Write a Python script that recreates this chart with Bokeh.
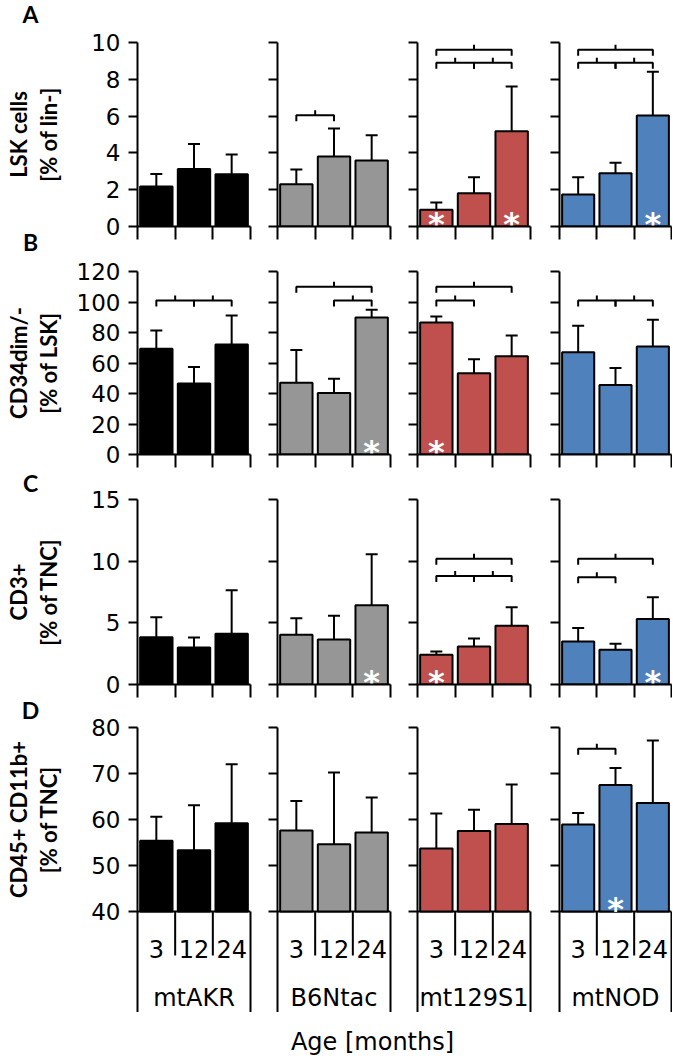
import numpy as np
from bokeh.plotting import figure
from bokeh.models import (Range1d, FixedTicker, LinearAxis, Whisker, ColumnDataSource, TeeHead)
from bokeh.layouts import column, row
from bokeh.embed import file_html
from bokeh.resources import INLINE
from bokeh.core.properties import value

# ---------------- data ----------------
strains = ["mtAKR", "B6Ntac", "mt129S1", "mtNOD"]
ages = ["3", "12", "24"]
bar_colors = ["#000000", "#969696", "#C0504D", "#4F81BD"]

row_letters = ["A", "B", "C", "D"]
row_title_1 = ["LSK cells", "CD34dim/-", "CD3+", "CD45+ CD11b+"]
row_title_2 = ["[% of lin-]", "[% of LSK]", "[% of TNC]", "[% of TNC]"]
row_ranges = [(0, 10), (0, 120), (0, 15), (40, 80)]
row_ticks = [[0, 2, 4, 6, 8, 10], [0, 20, 40, 60, 80, 100, 120],
             [0, 5, 10, 15], [40, 50, 60, 70, 80]]
x_title = "Age [months]"

# means per strain (3, 12, 24 months) and upper error
lsk_mean = [[2.17, 3.13, 2.84], [2.30, 3.80, 3.59], [0.91, 1.81, 5.18], [1.74, 2.90, 6.03]]
lsk_err = [[0.69, 1.36, 1.07], [0.80, 1.53, 1.37], [0.39, 0.87, 2.43], [0.94, 0.56, 2.38]]
cd34_mean = [[69.3, 46.6, 72.1], [47.0, 40.4, 89.8], [86.6, 53.3, 64.5], [67.1, 45.5, 70.8]]
cd34_err = [[12.0, 10.7, 19.0], [21.6, 9.2, 5.1], [3.9, 9.2, 13.5], [17.3, 11.3, 17.5]]
cd3_mean = [[3.84, 3.00, 4.11], [4.03, 3.65, 6.43], [2.41, 3.08, 4.76], [3.49, 2.81, 5.32]]
cd3_err = [[1.62, 0.81, 3.54], [1.35, 1.92, 4.14], [0.27, 0.65, 1.51], [1.10, 0.49, 1.76]]
cd45_mean = [[55.4, 53.3, 59.2], [57.6, 54.6, 57.2], [53.7, 57.5, 59.0], [58.9, 67.5, 63.6]]
cd45_err = [[5.2, 9.8, 12.8], [6.4, 15.6, 7.6], [7.6, 4.6, 8.6], [2.5, 3.7, 13.6]]

# significance brackets: (strain index, age i, age j, level)
lsk_brackets = [(1, 0, 1, 6.05), (2, 0, 2, 9.6), (2, 0, 1, 8.9), (2, 1, 2, 8.9),
                (3, 0, 2, 9.6), (3, 0, 1, 8.9), (3, 1, 2, 8.9)]
cd34_brackets = [(0, 0, 1, 101), (0, 1, 2, 101), (1, 0, 2, 110), (1, 1, 2, 101),
                 (2, 0, 2, 110), (2, 0, 1, 101), (3, 0, 1, 101), (3, 1, 2, 101)]
cd3_brackets = [(2, 0, 2, 10.2), (2, 0, 1, 8.8), (2, 1, 2, 8.8), (3, 0, 2, 10.2), (3, 0, 1, 8.7)]
cd45_brackets = [(3, 0, 1, 75.4)]

# asterisks: (strain index, age index)
lsk_stars = [(2, 0), (2, 2), (3, 2)]
cd34_stars = [(1, 2), (2, 0)]
cd3_stars = [(1, 2), (2, 0), (3, 2)]
cd45_stars = [(3, 1)]

means = [lsk_mean, cd34_mean, cd3_mean, cd45_mean]
errs = [lsk_err, cd34_err, cd3_err, cd45_err]
brackets = [lsk_brackets, cd34_brackets, cd3_brackets, cd45_brackets]
stars = [lsk_stars, cd34_stars, cd3_stars, cd45_stars]

# ---------------- layout (pixels) ----------------
FONT = "DejaVu Sans"
BOLD_FONT = "Lato"
TICK_SIZE = "23px"
TABLE_SIZE = "24px"
STRIP_W = 70
FRAME_W = [113, 113, 113, 112]
LEFT = [67, 25, 25, 27]
RIGHT = [2, 2, 2, 1]
ROW_EDGES = [0, 249, 477, 705]        # top of each row figure
FRAME_TOP = [42, 271, 499, 727]       # top of each frame
FRAME_H = [184, 183, 185, 184]
TABLE_PX = 101                        # category table under the last row
TABLE_INNER = 44
AGE_Y = 37
STRAIN_Y = 86
AGE_FIG_H = 46
AGE_TITLE_Y = 29
LETTER_Y = [13, 241, 482, 709]
LETTER_X = 30
TITLE_X = [18, 48]

n = len(ages)
centers = np.arange(n) + 0.5
bounds = np.arange(n + 1)
TOTAL_TABLE = FRAME_TOP[3] + FRAME_H[3] + TABLE_PX


def hidden_labels(ax):
    ax.major_label_text_font_size = "0px"
    ax.major_label_text_color = None
    ax.major_label_standoff = 0


def panel(r, s):
    lo, hi = row_ranges[r]
    span = hi - lo
    last_row = r == len(row_ranges) - 1
    first = s == 0
    top_b = FRAME_TOP[r] - ROW_EDGES[r]
    px_per = FRAME_H[r] / span
    if last_row:
        frame_h = FRAME_H[r] + TABLE_PX
        ylo = lo - TABLE_PX / px_per
        bot_b = 0
    else:
        frame_h = FRAME_H[r]
        ylo = lo
        bot_b = ROW_EDGES[r + 1] - FRAME_TOP[r] - FRAME_H[r]
    p = figure(width=LEFT[s] + FRAME_W[s] + RIGHT[s], height=top_b + frame_h + bot_b,
               x_range=Range1d(0, n), y_range=Range1d(ylo, hi),
               x_axis_type=None, y_axis_type=None,
               output_backend="svg", toolbar_location=None,
               min_border_left=LEFT[s], min_border_right=RIGHT[s],
               min_border_top=top_b, min_border_bottom=bot_b)
    p.outline_line_color = None
    p.background_fill_color = "white"
    p.border_fill_color = "white"

    yax = LinearAxis(ticker=FixedTicker(ticks=row_ticks[r]),
                     major_tick_out=9, major_tick_in=0,
                     axis_line_width=2, axis_line_color="black",
                     major_tick_line_width=2, major_tick_line_color="black",
                     minor_tick_line_color=None)
    if last_row:
        yax.bounds = (ylo, hi)
    if first:
        yax.major_label_text_font = FONT
        yax.major_label_text_font_size = TICK_SIZE
        yax.major_label_text_color = "black"
        yax.major_label_standoff = 8
    else:
        hidden_labels(yax)
    p.add_layout(yax, "left")

    if not last_row:
        xax = LinearAxis(ticker=FixedTicker(ticks=list(bounds)),
                         major_tick_out=13, major_tick_in=0,
                         axis_line_width=2, axis_line_color="black",
                         major_tick_line_width=2, major_tick_line_color="black",
                         minor_tick_line_color=None)
        hidden_labels(xax)
        p.add_layout(xax, "below")
    else:
        # category table: right edge line, baseline, separators, age + strain labels
        rax = LinearAxis(ticker=FixedTicker(ticks=[]), bounds=(ylo, lo),
                         axis_line_width=2, axis_line_color="black",
                         major_tick_line_color=None, minor_tick_line_color=None)
        hidden_labels(rax)
        p.add_layout(rax, "right")
        p.segment(x0=[bounds[0]], y0=[lo], x1=[bounds[-1]], y1=[lo],
                  line_color="black", line_width=2)
        inner = list(bounds[1:-1])
        p.segment(x0=inner, y0=[lo] * len(inner), x1=inner,
                  y1=[lo - TABLE_INNER / px_per] * len(inner),
                  line_color="black", line_width=2)
        p.text(x=centers, y=[lo - AGE_Y / px_per] * n, text=ages,
               text_align="center", text_baseline="middle",
               text_font=value(FONT), text_font_size=TABLE_SIZE, text_color="black")
        p.text(x=[n / 2], y=[lo - STRAIN_Y / px_per], text=[strains[s]],
               text_align="center", text_baseline="middle",
               text_font=value(FONT), text_font_size=TABLE_SIZE, text_color="black")

    top = np.array(means[r][s])
    upper = top + np.array(errs[r][s])
    src = ColumnDataSource(dict(x=centers, top=top, upper=upper))
    p.vbar(x="x", top="top", bottom=lo, width=0.86, source=src,
           fill_color=bar_colors[s], line_color="black", line_width=2)
    p.add_layout(Whisker(base="x", lower="top", upper="upper", source=src,
                         line_width=2, line_color="black", level="annotation",
                         upper_head=TeeHead(size=12, line_width=2, line_color="black"),
                         lower_head=None))

    leg = 6 / px_per
    tick = 5 / px_per
    bxs, bys = [], []
    for (si, i, j, lev) in brackets[r]:
        if si != s:
            continue
        a, b = centers[i], centers[j]
        m = (a + b) / 2
        bxs.append([a, a, b, b])
        bys.append([lev - leg, lev, lev, lev - leg])
        bxs.append([m, m])
        bys.append([lev, lev + tick])
    if bxs:
        p.multi_line(bxs, bys, line_color="black", line_width=2)

    st = [centers[b] for (si, b) in stars[r] if si == s]
    if st:
        p.text(x=st, y=[lo] * len(st), text=["*"] * len(st), text_color="white",
               text_font=value("DejaVu Sans"), text_font_style="bold",
               text_font_size="32px", text_align="center",
               text_baseline="middle", y_offset=-3)
    return p


grid = [[panel(r, s) for s in range(len(strains))] for r in range(len(row_ranges))]

# left strip: panel letters and the two-line y titles
strip = figure(width=STRIP_W, height=TOTAL_TABLE, x_range=Range1d(0, STRIP_W),
               y_range=Range1d(TOTAL_TABLE, 0), x_axis_type=None, y_axis_type=None,
               output_backend="svg", toolbar_location=None, min_border=0)
strip.outline_line_color = None
strip.text(x=[LETTER_X] * 4, y=LETTER_Y, text=row_letters, text_align="center",
           text_baseline="middle", text_font=value(BOLD_FONT), text_font_style="bold",
           text_font_size="23px", text_color="black")
mid = [FRAME_TOP[r] + FRAME_H[r] / 2 for r in range(4)]
for k, titles in enumerate([row_title_1, row_title_2]):
    strip.text(x=[TITLE_X[k]] * 4, y=mid, text=titles, angle=np.pi / 2,
               text_align="center", text_baseline="middle", text_font=value(BOLD_FONT),
               text_font_style="bold", text_font_size="22px", text_color="black")

panels_w = sum(LEFT) + sum(FRAME_W) + sum(RIGHT)
age_fig = figure(width=panels_w, height=AGE_FIG_H, x_range=Range1d(STRIP_W, STRIP_W + panels_w),
                 y_range=Range1d(TOTAL_TABLE + AGE_FIG_H, TOTAL_TABLE),
                 x_axis_type=None, y_axis_type=None, output_backend="svg",
                 toolbar_location=None, min_border=0)
age_fig.outline_line_color = None
age_fig.text(x=[372], y=[TOTAL_TABLE + AGE_TITLE_Y], text=[x_title], text_align="center",
             text_baseline="middle", text_font=value(FONT), text_font_size=TABLE_SIZE,
             text_color="black")

layout = row(strip, column(*[row(*g) for g in grid], age_fig))
open("out.html", "w").write(file_html(layout, INLINE))
